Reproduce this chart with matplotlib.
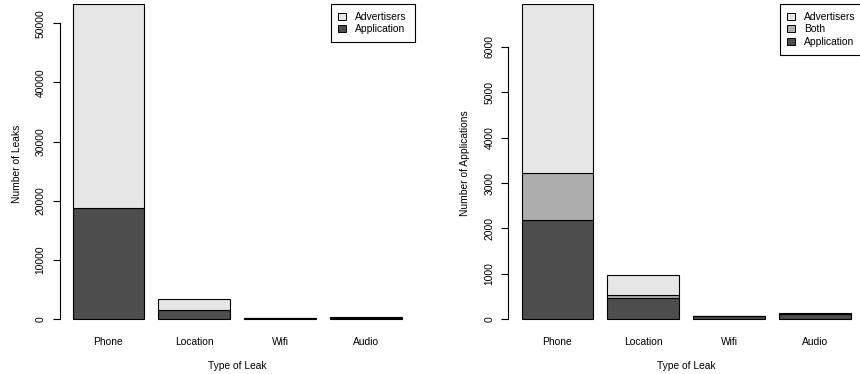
import matplotlib
matplotlib.use("Agg")
import matplotlib.pyplot as plt
import numpy as np

plt.rcParams['font.family'] = ['Liberation Sans', 'DejaVu Sans']

categories = ['Phone', 'Location', 'Wifi', 'Audio']

# left panel: number of leaks
leaks_app = [18750, 1570, 250, 300]
leaks_adv = [34510, 1860, 50, 120]

# right panel: number of applications
apps_app = [2187, 462, 70, 115]
apps_both = [1042, 80, 5, 5]
apps_adv = [3715, 434, 5, 12]

dark, mid, light = '#4D4D4D', '#AEAEAE', '#E6E6E6'
fs = 7.4
W, H = 860, 374
fig = plt.figure(figsize=(W / 100, H / 100), dpi=100)

ax_top, ax_bot = 4, 331.9
ax_w = 355.2


def make_axes(left_px):
    return fig.add_axes([left_px / W, 1 - ax_bot / H, ax_w / W, (ax_bot - ax_top) / H])


def style(ax, top, ticks, ylabel, ylabel_x):
    x = np.arange(len(categories)) * 1.2 + 0.7
    ax.set_xlim(0.016, 4.984)
    ax.set_ylim(-0.04 * top, top)
    for s in ['top', 'right', 'bottom']:
        ax.spines[s].set_visible(False)
    ax.spines['left'].set_bounds(ticks[0], ticks[-1])
    ax.spines['left'].set_linewidth(0.8)
    ax.set_yticks(ticks)
    ax.set_yticklabels([str(t) for t in ticks], rotation=90, va='center', fontsize=fs)
    ax.tick_params(axis='y', length=5.4, width=0.8, pad=4.5)
    ax.set_xticks(x)
    ax.set_xticklabels(categories, fontsize=fs)
    ax.tick_params(axis='x', length=0, pad=3.5)
    ax.set_xlabel('Type of Leak', fontsize=fs)
    ax.xaxis.set_label_coords(0.5, -33.8 / (ax_bot - ax_top))
    ax.xaxis.label.set_va('center')
    ax.set_ylabel(ylabel, fontsize=fs)
    ax.yaxis.set_label_coords(ylabel_x, 0.514)
    ax.yaxis.label.set_va('center')
    return x


def legend(ax, handles_spec):
    handles = [plt.Rectangle((0, 0), 1, 1, facecolor=c, edgecolor='black', linewidth=0.7)
               for c, _ in handles_spec]
    labels = [l for _, l in handles_spec]
    leg = ax.legend(handles, labels, loc='upper right', bbox_to_anchor=(1, 1),
                    borderaxespad=0, fontsize=fs, handlelength=0.7, handleheight=0.7,
                    handletextpad=0.95, labelspacing=0.25, borderpad=0.75,
                    fancybox=False, framealpha=1)
    leg.get_frame().set_edgecolor('black')
    leg.get_frame().set_linewidth(0.8)


bar_kw = dict(width=1.0, edgecolor='black', linewidth=0.8)

ax1 = make_axes(59.5)
x = style(ax1, 53260, list(range(0, 50001, 10000)), 'Number of Leaks', (16.7 - 59.5) / ax_w)
ax1.bar(x, leaks_app, color=dark, **bar_kw)
ax1.bar(x, leaks_adv, bottom=leaks_app, color=light, **bar_kw)
legend(ax1, [(light, 'Advertisers'), (dark, 'Application')])

ax2 = make_axes(508.5)
x = style(ax2, 6944, list(range(0, 6001, 1000)), 'Number of Applications', (465 - 508.5) / ax_w)
ax2.bar(x, apps_app, color=dark, **bar_kw)
ax2.bar(x, apps_both, bottom=apps_app, color=mid, **bar_kw)
ax2.bar(x, apps_adv, bottom=np.add(apps_app, apps_both), color=light, **bar_kw)
legend(ax2, [(light, 'Advertisers'), (mid, 'Both'), (dark, 'Application')])

fig.savefig('out.png', dpi=100)
